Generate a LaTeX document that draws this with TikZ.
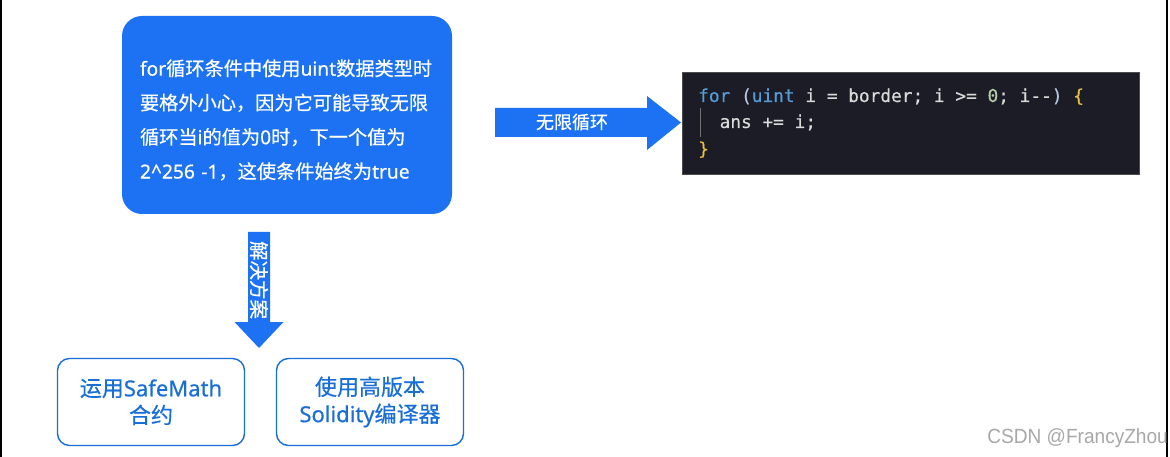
\documentclass[tikz,border=0pt]{standalone}
\usepackage{fontspec}
\setmainfont{Noto Sans CJK SC}[FakeBold=0.6]
\newfontfamily\lat{Noto Sans}[FakeBold=0.6]
\newfontfamily\wm{Liberation Sans}
\setmonofont{DejaVu Sans Mono}[FakeBold=0.3]
\definecolor{mainblue}{HTML}{1C72F2}
\definecolor{lineblue}{HTML}{1A6FD6}
\definecolor{codebg}{HTML}{1C1C26}
\definecolor{codefg}{HTML}{DADADA}
\definecolor{kw}{HTML}{569CD6}
\definecolor{num}{HTML}{B5CEA8}
\definecolor{brk}{HTML}{E8C040}
\definecolor{par}{HTML}{B8C8E0}
\definecolor{wmgray}{HTML}{A8A8A8}
\tikzset{
  mainbox/.style={fill=mainblue, draw=none, rounded corners=20pt, inner sep=0pt},
  solbox/.style={draw=lineblue, line width=1.4pt, rounded corners=12pt, fill=white,
    minimum width=187pt, minimum height=87pt, inner sep=0pt, align=center,
    text=lineblue, font=\fontsize{22}{27}\selectfont},
  blockarrow/.style={fill=mainblue, draw=none},
  arrowlabel/.style={text=white, inner sep=0pt, font=\fontsize{18}{20}\selectfont},
  codeline/.style={anchor=base west, inner sep=0pt, text=codefg, font=\ttfamily\fontsize{17.8}{20}\selectfont},
}
\begin{document}
\begin{tikzpicture}[x=1pt,y=-1pt]
\useasboundingbox (0,0) rectangle (1170,457);
\fill[white] (0,0) rectangle (1170,457);
% frame side lines
\draw[black, line width=1.5pt] (1,0) -- (1,457);
\draw[black, line width=1.5pt] (1167,0) -- (1167,457);

% main box
\node[mainbox, minimum width=330pt, minimum height=198pt] (main) at (287,115) {};
\node[text=white, inner sep=0pt, text width=300pt, align=left,
  font=\fontsize{19.2}{34.3}\selectfont] (maintext) at (290,120)
  {{\lat for}循环条件中使用{\lat uint}数据类型时\\
   要格外小心，因为它可能导致无限\\
   循环当{\lat i}的值为{\lat 0}时，下一个值为\\
   {\lat 2\^{}256 -1}，这使条件始终为{\lat true}};

% right block arrow
\fill[blockarrow] (495,108) -- (647,108) -- (647,96) -- (681,122.5) -- (647,150) -- (647,137) -- (495,137) -- cycle;
\node[arrowlabel] (rlabel) at (572,122) {无限循环};

% down block arrow
\fill[blockarrow] (248,232) -- (270,232) -- (270,322) -- (283.5,322) -- (259,348) -- (234.5,322) -- (248,322) -- cycle;
\node[arrowlabel, rotate=-90, font=\fontsize{19.5}{20}\selectfont] (dlabel) at (259,280) {解决方案};

% solution boxes
\node[solbox] (sol1) at (151,402) {运用{\lat SafeMath}\\合约};
\node[solbox] (sol2) at (370,402) {使用高版本\\{\lat Solidity}编译器};

% code box
\node[fill=codebg, draw=black!70, line width=0.6pt, minimum width=457pt, minimum height=102pt, inner sep=0pt] (code) at (910.5,123) {};
\node[codeline] (c1) at (698,102) {\textcolor{kw}{for} \textcolor{par}{(}\textcolor{kw}{uint} i = border; i >= \textcolor{num}{0}; i-{}-\textcolor{par}{)} \textcolor{brk}{\{}};
\node[codeline] (c2) at (698,128) {\phantom{xx}ans += i;};
\node[codeline] (c3) at (698,155) {\textcolor{brk}{\}}};
\draw[black!55, line width=0.8pt] (700.5,108) -- (700.5,137);

% watermark
\node[anchor=east, inner sep=0pt, text=wmgray, font=\wm\fontsize{20.5}{22}\selectfont, xscale=0.93] (wmark) at (1168,438) {CSDN @FrancyZhou};
\end{tikzpicture}
\end{document}
